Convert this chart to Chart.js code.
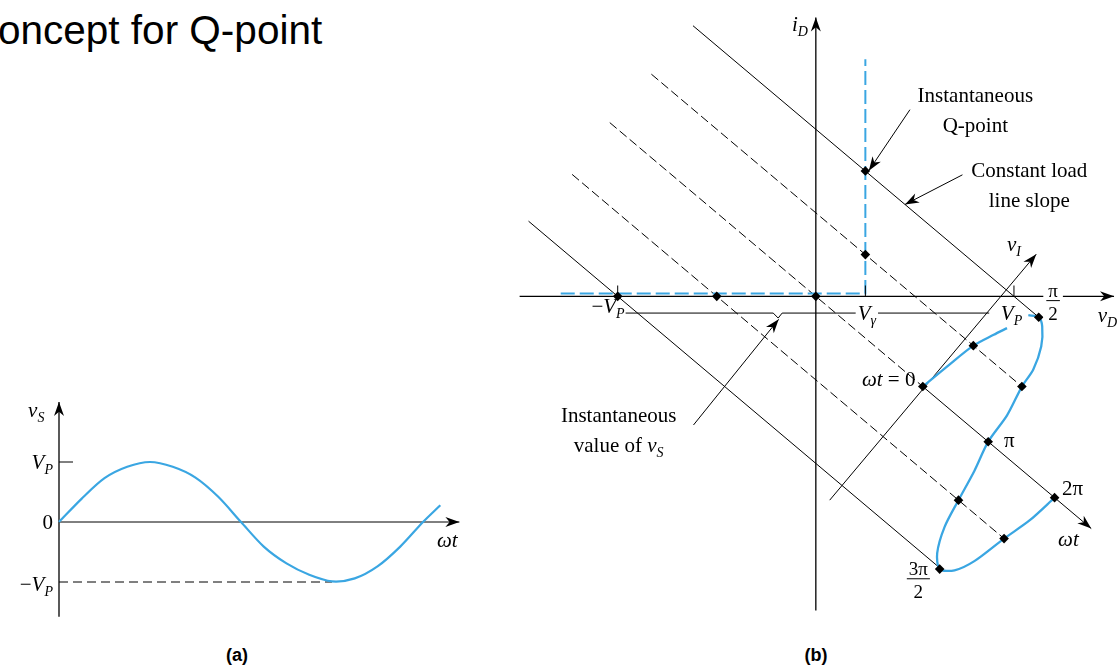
<!DOCTYPE html>
<html>
<head>
<meta charset="utf-8">
<script src="https://cdn.jsdelivr.net/npm/chart.js@4.4.1/dist/chart.umd.min.js"></script>
<style>
html, body { margin: 0; padding: 0; background: #fff; width: 1120px; height: 670px; overflow: hidden; position: relative; font-family: "Liberation Sans", Arial, sans-serif; }
#title { position: absolute; left: -2px; top: 10px; font-size: 40.5px; line-height: 40px; color: #000; white-space: nowrap; }
.cap { position: absolute; top: 644px; width: 40px; text-align: center; font-weight: bold; font-size: 18px; line-height: 22px; }
#wa { position: absolute; left: 0; top: 370px; width: 490px; height: 270px; }
#wb { position: absolute; left: 490px; top: 0; width: 630px; height: 640px; }
</style>
</head>
<body>
<div id="title">oncept for Q-point</div>
<div id="wa"><canvas id="chartA" width="490" height="270"></canvas></div>
<div id="wb"><canvas id="chartB" width="630" height="640"></canvas></div>
<div class="cap" style="left:217px">(a)</div>
<div class="cap" style="left:796px">(b)</div>
<script>
// ---- (a) source voltage, wt in units of pi, v_S in units of V_P
const wtA = [0, 0.125, 0.25, 0.375, 0.5, 0.625, 0.75, 0.875, 1, 1.125, 1.25, 1.375, 1.5, 1.625, 1.75, 1.875, 2, 2.095];
const vsA = [0, 0.39, 0.73, 0.92, 1, 0.92, 0.74, 0.42, 0, -0.41, -0.69, -0.88, -0.99, -0.94, -0.74, -0.41, 0, 0.28];
const axisA = { vTop: 2.0, vBottom: -1.58, wtEnd: 2.2 };
const vpDashEnd = 1.5;

// ---- (b) load lines, v_D and i_D with V_P = 4, V_gamma = 1
const loadLineVs = [4, 2, 0, -2, -4];
const loadStart = [[-2.48, 6.48], [-3.32, 5.32], [-4.16, 4.16], [-4.92, 2.92], [-5.80, 1.80]];
const loadEnd = [[4.50, -0.50], [4.16, -2.16], [2.16, -2.16], [3.80, -5.80], [2.52, -6.52]];
const wtAxis = [[2.16, -2.16], [5.56, -5.56]];
const viAxis = [[0.28, -4.88], [4.45, 1.01]];
const diodeV = [-5.15, 1, 1];
const diodeI = [0.07, 0.07, 5.68];
const loopV = [2.16, 2.66, 3.18, 3.59, 3.86, null, 4.29, 4.50, 4.57, 4.55, 4.39, 4.16, 3.86, 3.48, 3.20, 2.88, 2.60, 2.45, 2.50, 2.80, 3.20, 3.80, 4.32, 4.82];
const loopI = [-2.16, -1.67, -1.18, -0.92, -0.76, null, -0.45, -0.50, -0.72, -1.20, -1.75, -2.16, -2.85, -3.48, -4.18, -4.88, -5.52, -6.15, -6.53, -6.56, -6.34, -5.80, -5.36, -4.82];
const markV = [-4, -2, 0, 1, 1, 2.16, 3.18, 4.50, 4.16, 3.48, 2.88, 2.50, 3.80, 4.82];
const markI = [0, 0, 0, 1, 3, -2.16, -1.18, -0.50, -2.16, -3.48, -4.88, -6.53, -5.80, -4.82];
const tickV = [-4, 1, 4];
const scaleV = [-3.84, -0.86, -0.76, -0.68, 3.50];
const scaleI = [-0.40, -0.40, -0.52, -0.40, -0.40];
const axisB = { iTop: 6.68, iBottom: -7.52, vLeft: -5.98, vRight: 6.02 };

const BLUE = '#3aa6e2';
const SERIF = '"Liberation Serif", "Times New Roman", serif';

const xy = (xs, ys) => xs.map((x, i) => ({ x: x, y: ys[i] }));
const seg = (p, q) => [{ x: p[0], y: p[1] }, { x: q[0], y: q[1] }];
const line = (data, extra) => Object.assign({
    data: data, showLine: true, pointRadius: 0, borderColor: '#000', borderWidth: 1, tension: 0, fill: false
}, extra || {});

// annotation arrows (shaft from -> to, head at "to")
const arrowsB = [
    { from: [-2.47, -3.08], to: [-0.75, -0.55] },
    { from: [1.90, 4.47], to: [1.07, 3.01] },
    { from: [2.96, 2.91], to: [1.80, 2.20] },
];

const labelsA = [
    { at: [-0.17, 1.87], align: 'left', runs: [['v', 'i'], ['S', 's']] },
    { at: [-0.033, 1.0], align: 'right', runs: [['V', 'i'], ['P', 's']] },
    { at: [-0.033, 0], align: 'right', runs: [['0', 'r']] },
    { at: [-0.033, -1.03], align: 'right', runs: [['\u2212', 'r'], ['V', 'i'], ['P', 's']] },
    { at: [2.077, -0.30], align: 'left', runs: [['\u03c9t', 'i']] },
];

const labelsB = [
    { at: [-0.16, 6.51], align: 'right', runs: [['i', 'i'], ['D', 's']] },
    { at: [5.69, -0.45], align: 'left', runs: [['v', 'i'], ['D', 's']] },
    { at: [-3.86, -0.23], align: 'right', runs: [['\u2212', 'r'], ['V', 'i'], ['P', 's']] },
    { at: [1.03, -0.40], align: 'center', bg: true, runs: [['V', 'i'], ['\u03b3', 's']] },
    { at: [3.95, -0.40], align: 'center', runs: [['V', 'i'], ['P', 's']] },
    { at: [4.00, 1.25], align: 'center', runs: [['v', 'i'], ['I', 's']] },
    { at: [2.01, -1.98], align: 'right', runs: [['\u03c9t', 'i'], [' = 0', 'r']] },
    { at: [3.80, -3.44], align: 'left', runs: [['\u03c0', 'r']] },
    { at: [4.97, -4.58], align: 'left', runs: [['2\u03c0', 'r']] },
    { at: [4.89, -5.82], align: 'left', runs: [['\u03c9t', 'i']] },
    { at: [3.22, 4.81], align: 'center', runs: [['Instantaneous', 'r']] },
    { at: [3.22, 4.10], align: 'center', runs: [['Q-point', 'r']] },
    { at: [4.31, 3.02], align: 'center', runs: [['Constant load', 'r']] },
    { at: [4.31, 2.31], align: 'center', runs: [['line slope', 'r']] },
    { at: [-3.98, -2.85], align: 'center', runs: [['Instantaneous', 'r']] },
    { at: [-3.98, -3.56], align: 'center', runs: [['value of ', 'r'], ['v', 'i'], ['S', 's']] },
];
const fracsB = [
    { at: [4.79, -0.09], num: '\u03c0', den: '2', bg: true },
    { at: [2.07, -6.75], num: '3\u03c0', den: '2' },
];

function runFont(s) {
    if (s === 'i') return 'italic 21px ' + SERIF;
    if (s === 's') return 'italic 14px ' + SERIF;
    return '21px ' + SERIF;
}

function drawRich(ctx, lab, x, y) {
    let w = 0;
    const widths = lab.runs.map(r => { ctx.font = runFont(r[1]); const m = ctx.measureText(r[0]).width; w += m; return m; });
    let sx = lab.align === 'right' ? x - w : lab.align === 'center' ? x - w / 2 : x;
    if (lab.bg) { ctx.fillStyle = '#fff'; ctx.fillRect(sx - 2, y - 9, w + 4, 22); }
    ctx.fillStyle = '#000';
    ctx.textAlign = 'left';
    ctx.textBaseline = 'alphabetic';
    lab.runs.forEach((r, k) => {
        ctx.font = runFont(r[1]);
        ctx.fillText(r[0], sx, r[1] === 's' ? y + 12 : y + 7);
        sx += widths[k];
    });
}

function drawFrac(ctx, f, x, y) {
    ctx.font = '19px ' + SERIF;
    const w = Math.max(ctx.measureText(f.num).width, ctx.measureText(f.den).width) + 4;
    if (f.bg) { ctx.fillStyle = '#fff'; ctx.fillRect(x - w / 2 - 3, y - 16, w + 6, 37); }
    ctx.fillStyle = '#000';
    ctx.textAlign = 'center';
    ctx.textBaseline = 'alphabetic';
    ctx.fillText(f.num, x, y - 3);
    ctx.fillText(f.den, x, y + 20);
    ctx.strokeStyle = '#000';
    ctx.lineWidth = 1;
    ctx.beginPath();
    ctx.moveTo(x - w / 2, y + 0.5);
    ctx.lineTo(x + w / 2, y + 0.5);
    ctx.stroke();
}

function arrowHead(ctx, x0, y0, x1, y1, len, half) {
    const a = Math.atan2(y1 - y0, x1 - x0), c = Math.cos(a), s = Math.sin(a);
    ctx.beginPath();
    ctx.moveTo(x1, y1);
    ctx.lineTo(x1 - len * c + half * s, y1 - len * s - half * c);
    ctx.lineTo(x1 - 0.7 * len * c, y1 - 0.7 * len * s);
    ctx.lineTo(x1 - len * c - half * s, y1 - len * s + half * c);
    ctx.closePath();
    ctx.fill();
}

function decor(heads, labels, fracs) {
    return {
        id: 'decor',
        afterDatasetsDraw(chart) {
            const ctx = chart.ctx, sx = chart.scales.x, sy = chart.scales.y;
            const P = p => [sx.getPixelForValue(p[0]), sy.getPixelForValue(p[1])];
            ctx.save();
            ctx.fillStyle = '#000';
            heads.forEach(h => {
                const a = P(h.from), b = P(h.to);
                arrowHead(ctx, a[0], a[1], b[0], b[1], h.len || 14, h.half || 5);
            });
            labels.forEach(l => { const p = P(l.at); drawRich(ctx, l, p[0], p[1]); });
            (fracs || []).forEach(f => { const p = P(f.at); drawFrac(ctx, f, p[0], p[1]); });
            ctx.restore();
        }
    };
}

function options(xr, yr) {
    return {
        responsive: false, animation: false, devicePixelRatio: 1, events: [],
        layout: { padding: 0 },
        plugins: { legend: { display: false }, tooltip: { enabled: false } },
        scales: {
            x: { type: 'linear', display: false, min: xr[0], max: xr[1] },
            y: { type: 'linear', display: false, min: yr[0], max: yr[1] }
        }
    };
}

// ---- chart (a): origin at canvas (59,152), 182 px per pi, 60 px per V_P
new Chart(document.getElementById('chartA'), {
    type: 'scatter',
    data: {
        datasets: [
            line(xy(wtA, vsA), { borderColor: BLUE, borderWidth: 2.2, tension: 0.3 }),
            line(seg([0, axisA.vBottom], [0, axisA.vTop]), { borderWidth: 1.3 }),
            line(seg([0, 0], [axisA.wtEnd, 0])),
            line(seg([0, 1], [0.077, 1])),
            line(seg([0, -1], [vpDashEnd, -1]), { borderDash: [9, 5] }),
        ]
    },
    options: options([-59 / 182, (490 - 59) / 182], [-(270 - 152) / 60, 152 / 60]),
    plugins: [decor([
        { from: [0, 0], to: [0, axisA.vTop], len: 14, half: 5 },
        { from: [0, 0], to: [axisA.wtEnd, 0], len: 14, half: 5 },
    ], labelsA)]
});

// ---- chart (b): origin at canvas (326,296), 50.3 px per volt, 42.4 px per mA
const datasetsB = [
    line(xy(markV, markI), { showLine: false, pointRadius: 4.8, pointStyle: 'rectRot', pointBackgroundColor: '#000', pointBorderColor: '#000', pointBorderWidth: 0 }),
];
tickV.forEach(v => datasetsB.push(line(seg([v, 0], [v, 0.26]))));
datasetsB.push(line(xy(loopV, loopI), { borderColor: BLUE, borderWidth: 2.3, tension: 0.28, spanGaps: false }));
datasetsB.push(line(xy(diodeV, diodeI), { borderColor: BLUE, borderWidth: 2, borderDash: [14, 5] }));
loadLineVs.forEach((vs, k) => {
    const dashed = k > 0 && k < 4;
    datasetsB.push(line(seg(loadStart[k], loadEnd[k]), dashed ? { borderDash: [9, 4] } : {}));
});
datasetsB.push(line(seg(wtAxis[0], wtAxis[1])));
datasetsB.push(line(seg(viAxis[0], viAxis[1])));
datasetsB.push(line(seg([0, axisB.iBottom], [0, axisB.iTop]), { borderWidth: 1.3 }));
datasetsB.push(line(seg([axisB.vLeft, 0], [axisB.vRight, 0]), { borderWidth: 1.3 }));
datasetsB.push(line(xy(scaleV, scaleI)));
arrowsB.forEach(a => datasetsB.push(line(seg(a.from, a.to))));

new Chart(document.getElementById('chartB'), {
    type: 'scatter',
    data: { datasets: datasetsB },
    options: options([-326 / 50.3, (630 - 326) / 50.3], [-(640 - 296) / 42.4, 296 / 42.4]),
    plugins: [decor(arrowsB.concat([
        { from: [0, 0], to: [0, axisB.iTop], len: 14, half: 5 },
        { from: [0, 0], to: [axisB.vRight, 0], len: 14, half: 5 },
        { from: wtAxis[0], to: wtAxis[1], len: 14, half: 5 },
        { from: viAxis[0], to: viAxis[1], len: 14, half: 5 },
    ]), labelsB, fracsB)]
});
</script>
</body>
</html>
